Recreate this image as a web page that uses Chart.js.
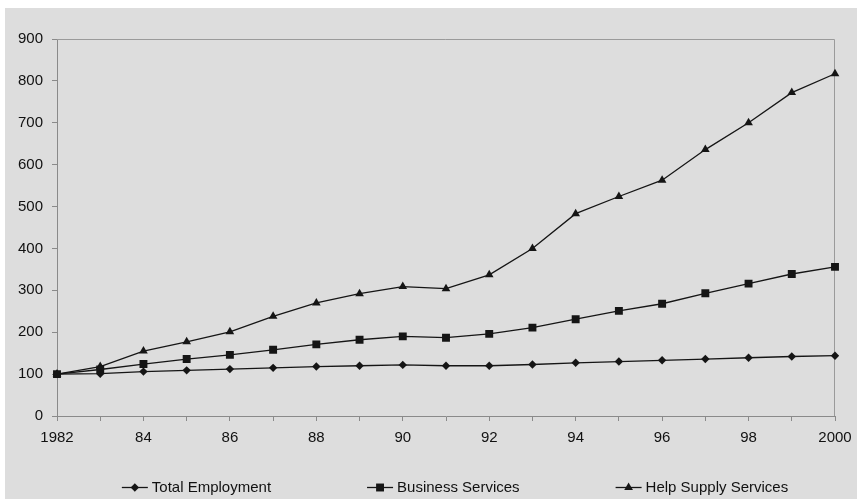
<!DOCTYPE html>
<html>
<head>
<meta charset="utf-8">
<script src="https://cdn.jsdelivr.net/npm/chart.js@4.4.1/dist/chart.umd.min.js"></script>
<style>
  body { margin: 0; background: #fff; }
  #wrap { width: 857px; height: 499px; position: relative; }
</style>
</head>
<body>
<div id="wrap"><canvas id="grafico"></canvas></div>
<script>
// anos e series (indice 1982 = 100)
var anos = ['1982', '1983', '1984', '1985', '1986', '1987', '1988', '1989', '1990', '1991',
            '1992', '1993', '1994', '1995', '1996', '1997', '1998', '1999', '2000'];

var total_emprego = [100, 101, 106, 109, 112, 115, 118, 120, 122, 120, 120, 123, 127, 130, 133, 136, 139, 142, 144];
var servicos_negocio = [100, 111, 124, 136, 146, 158, 171, 182, 190, 187, 196, 211, 231, 251, 268, 293, 316, 339, 356];
var servicos_ajuda = [100, 118, 155, 177, 201, 238, 270, 292, 309, 304, 337, 400, 483, 524, 563, 636, 700, 772, 817];

var nomes_series = ['Total Employment', 'Business Services', 'Help Supply Services'];
var marcadores = ['rectRot', 'rect', 'triangle'];
var tamanhos = [4.2, 5.6, 5];

var y_ticks = [0, 100, 200, 300, 400, 500, 600, 700, 800, 900];

var cor = '#151515';

var fundo = {
    id: 'fundo',
    beforeDraw: function (chart) {
        var ctx = chart.ctx;
        ctx.save();
        ctx.fillStyle = '#dddddd';
        ctx.fillRect(5, 8, chart.width - 5, chart.height - 8);
        ctx.restore();
    },
    beforeDatasetsDraw: function (chart) {
        // borda de cima e da direita da area do grafico
        var a = chart.chartArea;
        var ctx = chart.ctx;
        ctx.save();
        ctx.strokeStyle = '#9a9a9a';
        ctx.lineWidth = 1;
        ctx.beginPath();
        ctx.moveTo(a.left, a.top + 0.5);
        ctx.lineTo(a.right - 0.5, a.top + 0.5);
        ctx.lineTo(a.right - 0.5, a.bottom);
        ctx.stroke();
        ctx.restore();
    }
};

var legenda = {
    id: 'legenda',
    afterDraw: function (chart) {
        var ctx = chart.ctx;
        ctx.save();
        ctx.font = '15px "Liberation Sans", Arial, sans-serif';
        ctx.textBaseline = 'middle';
        var linha = 26, espaco = 4, gap = 96;
        var larguras = [];
        var total = 0;
        for (let i = 0; i < nomes_series.length; i++) {
            larguras.push(ctx.measureText(nomes_series[i]).width);
            total += linha + espaco + larguras[i];
        }
        total += gap * (nomes_series.length - 1);
        var x = 455 - total / 2;
        var y = 487.5;
        for (let i = 0; i < nomes_series.length; i++) {
            ctx.strokeStyle = cor;
            ctx.lineWidth = 1.3;
            ctx.beginPath();
            ctx.moveTo(x, y);
            ctx.lineTo(x + linha, y);
            ctx.stroke();
            ctx.fillStyle = cor;
            Chart.helpers.drawPoint(ctx, { pointStyle: marcadores[i], radius: tamanhos[i], borderWidth: 0 }, x + linha / 2, y);
            ctx.fillStyle = '#111';
            ctx.fillText(nomes_series[i], x + linha + espaco, y);
            x += linha + espaco + larguras[i] + gap;
        }
        ctx.restore();
    }
};

var lista_dados = [total_emprego, servicos_negocio, servicos_ajuda];
var datasets = [];
for (let c = 0; c < lista_dados.length; c++) {
    datasets.push({
        label: nomes_series[c],
        data: lista_dados[c],
        borderColor: cor,
        backgroundColor: cor,
        borderWidth: 1.3,
        pointStyle: marcadores[c],
        pointRadius: tamanhos[c],
        pointBorderWidth: 0,
        pointBackgroundColor: cor,
        tension: 0
    });
}

const config = {
    type: 'line',
    data: { labels: anos, datasets: datasets },
    options: {
        responsive: false,
        animation: false,
        layout: { padding: { top: 39, right: 22, bottom: 48, left: 0 } },
        plugins: {
            legend: { display: false },
            tooltip: { enabled: false }
        },
        scales: {
            x: {
                offset: false,
                grid: { drawOnChartArea: false, drawTicks: true, tickLength: 5, color: '#8a8a8a' },
                border: { color: '#8a8a8a', width: 1 },
                ticks: {
                    autoSkip: false,
                    maxRotation: 0,
                    padding: 8,
                    color: '#111',
                    font: { family: '"Liberation Sans", Arial, sans-serif', size: 15 },
                    callback: function (valor, indice) {
                        var ano = Number(anos[indice]);
                        if (ano % 2 != 0) return '';
                        if (ano == 1982 || ano == 2000) return '' + ano;
                        return anos[indice].substring(2);
                    }
                },
                afterFit: function (escala) {
                    escala.height = 35;
                    escala.paddingLeft = 0;
                    escala.paddingRight = 0;
                }
            },
            y: {
                min: y_ticks[0],
                max: y_ticks[y_ticks.length - 1],
                afterBuildTicks: function (escala) {
                    escala.ticks = y_ticks.map(function (v) { return { value: v }; });
                },
                grid: { drawOnChartArea: false, drawTicks: true, tickLength: 5, color: '#8a8a8a' },
                border: { color: '#8a8a8a', width: 1 },
                ticks: {
                    padding: 9,
                    color: '#111',
                    font: { family: '"Liberation Sans", Arial, sans-serif', size: 15 }
                },
                afterFit: function (escala) {
                    escala.width = 57;
                    escala.paddingTop = 0;
                    escala.paddingBottom = 0;
                }
            }
        }
    },
    plugins: [fundo, legenda]
};

var canvas = document.getElementById('grafico');
canvas.width = 857;
canvas.height = 499;
const myChart = new Chart(canvas, config);
</script>
</body>
</html>
